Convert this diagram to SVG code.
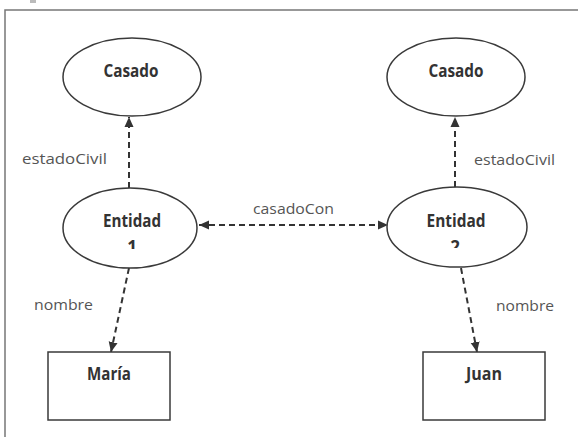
<svg xmlns="http://www.w3.org/2000/svg" width="578" height="437" viewBox="0 0 578 437">
<defs>
<style>
.node{fill:#fff;stroke:#3a3a3a;stroke-width:1.5}
.nt{font-family:"Open Sans","Liberation Sans",Arial,sans-serif;font-weight:bold;font-size:17px;fill:#333;text-anchor:middle}
.lbl{font-family:"Open Sans","Liberation Sans",sans-serif;font-size:15px;fill:#555}
.edge{stroke:#333;stroke-width:2;stroke-dasharray:6 4;fill:none}
</style>
<marker id="ah" viewBox="0 0 10 10" refX="10" refY="5" markerWidth="10" markerHeight="10" markerUnits="userSpaceOnUse" orient="auto-start-reverse">
<path d="M0,0.5 L10,5 L0,9.5 Z" fill="#333"/>
</marker>
<clipPath id="c1"><rect x="100" y="236" width="60" height="13"/></clipPath>
<clipPath id="c2"><rect x="425" y="236" width="60" height="12"/></clipPath>
</defs>
<rect width="578" height="437" fill="#fff"/>
<g id="frame">
<path d="M5,437 V10 H578" fill="none" stroke="#777" stroke-width="1.5"/>
<rect x="30" y="0" width="6" height="3" fill="#bbb"/>
</g>
<g id="connectors">
<line class="edge" x1="129" y1="188" x2="129" y2="117" marker-end="url(#ah)"/>
<line class="edge" x1="455" y1="187" x2="455" y2="117" marker-end="url(#ah)"/>
<line class="edge" x1="199" y1="225" x2="388" y2="225" marker-start="url(#ah)" marker-end="url(#ah)"/>
<line class="edge" x1="129" y1="268" x2="111" y2="352" marker-end="url(#ah)"/>
<line class="edge" x1="461" y1="268" x2="477" y2="352" marker-end="url(#ah)"/>
<text class="lbl" x="22" y="164" textLength="85" lengthAdjust="spacingAndGlyphs">estadoCivil</text>
<text class="lbl" x="474" y="165" textLength="81" lengthAdjust="spacingAndGlyphs">estadoCivil</text>
<text class="lbl" x="253" y="214" textLength="81" lengthAdjust="spacingAndGlyphs">casadoCon</text>
<text class="lbl" x="34" y="310" textLength="59" lengthAdjust="spacingAndGlyphs">nombre</text>
<text class="lbl" x="496" y="311" textLength="58" lengthAdjust="spacingAndGlyphs">nombre</text>
</g>
<g id="casado1">
<ellipse class="node" cx="132" cy="77" rx="69" ry="39"/>
<text class="nt" x="131" y="77" textLength="55" lengthAdjust="spacingAndGlyphs">Casado</text>
</g>
<g id="casado2">
<ellipse class="node" cx="456" cy="77" rx="69" ry="39"/>
<text class="nt" x="456" y="77" textLength="55" lengthAdjust="spacingAndGlyphs">Casado</text>
</g>
<g id="entidad1">
<ellipse class="node" cx="130" cy="228" rx="67" ry="40"/>
<text class="nt" x="132" y="227" textLength="58" lengthAdjust="spacingAndGlyphs">Entidad</text>
<text class="nt" x="132" y="253" clip-path="url(#c1)">1</text>
</g>
<g id="entidad2">
<ellipse class="node" cx="457" cy="227" rx="70" ry="40"/>
<text class="nt" x="456" y="227" textLength="59" lengthAdjust="spacingAndGlyphs">Entidad</text>
<text class="nt" x="455" y="253" clip-path="url(#c2)">2</text>
</g>
<g id="maria">
<rect class="node" x="48" y="352" width="122" height="68"/>
<text class="nt" x="109" y="380" textLength="44" lengthAdjust="spacingAndGlyphs">María</text>
</g>
<g id="juan">
<rect class="node" x="423" y="352" width="122" height="68"/>
<text class="nt" x="484" y="380" textLength="36" lengthAdjust="spacingAndGlyphs">Juan</text>
</g>
</svg>
